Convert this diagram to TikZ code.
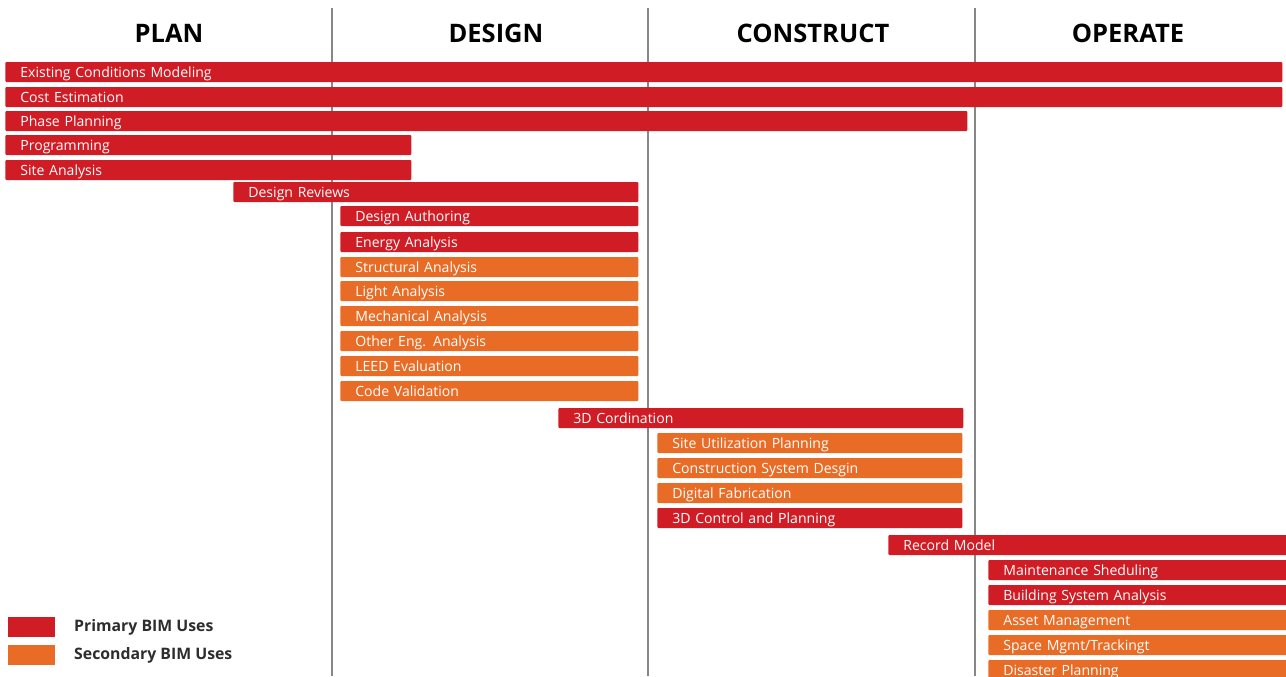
\documentclass[tikz,border=0pt]{standalone}
\usepackage{fontspec}
\setmainfont{Open Sans}
\usepackage{tikz}
\usetikzlibrary{positioning}
\definecolor{primcolor}{RGB}{208, 28, 36}
\definecolor{seccolor}{RGB}{232, 108, 38}
\definecolor{gridcolor}{RGB}{135, 135, 135}
\definecolor{keytext}{RGB}{45, 45, 45}

\begin{document}
\begin{tikzpicture}[
    x=0.2mm, y=-0.2mm,
    phase/.style={font=\fontsize{14.5}{16}\selectfont\bfseries, text=black},
    usebar/.style={rectangle, rounded corners=0.6pt, anchor=west, minimum height=4mm,
        inner xsep=3mm, inner ysep=0pt, align=left, text=white, text width=#1*0.2mm-6mm,
        text height=1.6ex, text depth=0.4ex, font=\fontsize{8}{9}\selectfont},
    primary/.style={usebar=#1, fill=primcolor},
    secondary/.style={usebar=#1, fill=seccolor},
    keybox/.style={rectangle, minimum width=9.4mm, minimum height=4mm, inner sep=0pt, anchor=west},
    keylabel/.style={font=\fontsize{9}{10}\selectfont\bfseries, text=keytext, anchor=west},
]
    \useasboundingbox (0,0) rectangle (1286,676);

    % Phase dividers
    \draw[gridcolor, line width=1.1pt] (332,8) -- (332,676);
    \draw[gridcolor, line width=1.1pt] (648,8) -- (648,676);
    \draw[gridcolor, line width=1.1pt] (975,8) -- (975,676);

    % Phases
    \node[phase] (plan) at (169,33) {PLAN};
    \node[phase] (design) at (496,33) {DESIGN};
    \node[phase] (construct) at (813,33) {CONSTRUCT};
    \node[phase] (operate) at (1128,33) {OPERATE};

    % Plan uses
    \node[primary=1277] (ecm) at (5,72) {Existing Conditions Modeling};
    \node[primary=1277] (cost) at (5,97) {Cost Estimation};
    \node[primary=962] (phaseplan) at (5,121) {Phase Planning};
    \node[primary=406] (prog) at (5,145) {Programming};
    \node[primary=406] (siteana) at (5,170) {Site Analysis};

    % Design uses
    \node[primary=405] (review) at (233,192) {Design Reviews};
    \node[primary=298] (author) at (340,216) {Design Authoring};
    \node[primary=298] (energy) at (340,242) {Energy Analysis};
    \node[secondary=298] (struct) at (340,267) {Structural Analysis};
    \node[secondary=298] (light) at (340,291) {Light Analysis};
    \node[secondary=298] (mech) at (340,316) {Mechanical Analysis};
    \node[secondary=298] (othereng) at (340,341) {Other Eng. Analysis};
    \node[secondary=298] (leed) at (340,366) {LEED Evaluation};
    \node[secondary=298] (codeval) at (340,391) {Code Validation};

    % Construct uses
    \node[primary=405] (coord) at (558,418) {3D Cordination};
    \node[secondary=305] (siteutil) at (657,443) {Site Utilization Planning};
    \node[secondary=305] (cssys) at (657,468) {Construction System Desgin};
    \node[secondary=305] (digfab) at (657,493) {Digital Fabrication};
    \node[primary=305] (ctrl) at (657,518) {3D Control and Planning};

    % Operate uses
    \node[primary=400] (record) at (888,545) {Record Model};
    \node[primary=300] (maint) at (988,570) {Maintenance Sheduling};
    \node[primary=300] (bsys) at (988,595) {Building System Analysis};
    \node[secondary=300] (asset) at (988,620) {Asset Management};
    \node[secondary=300] (space) at (988,645) {Space Mgmt/Trackingt};
    \node[secondary=300] (disaster) at (988,670) {Disaster Planning};

    % Legend
    \node[keybox, fill=primcolor] (keyprim) at (8,627) {};
    \node[keylabel] (keyprimtxt) at (68,627) {Primary BIM Uses};
    \node[keybox, fill=seccolor] (keysec) at (8,655) {};
    \node[keylabel] (keysectxt) at (68,655) {Secondary BIM Uses};

\end{tikzpicture}
\end{document}
